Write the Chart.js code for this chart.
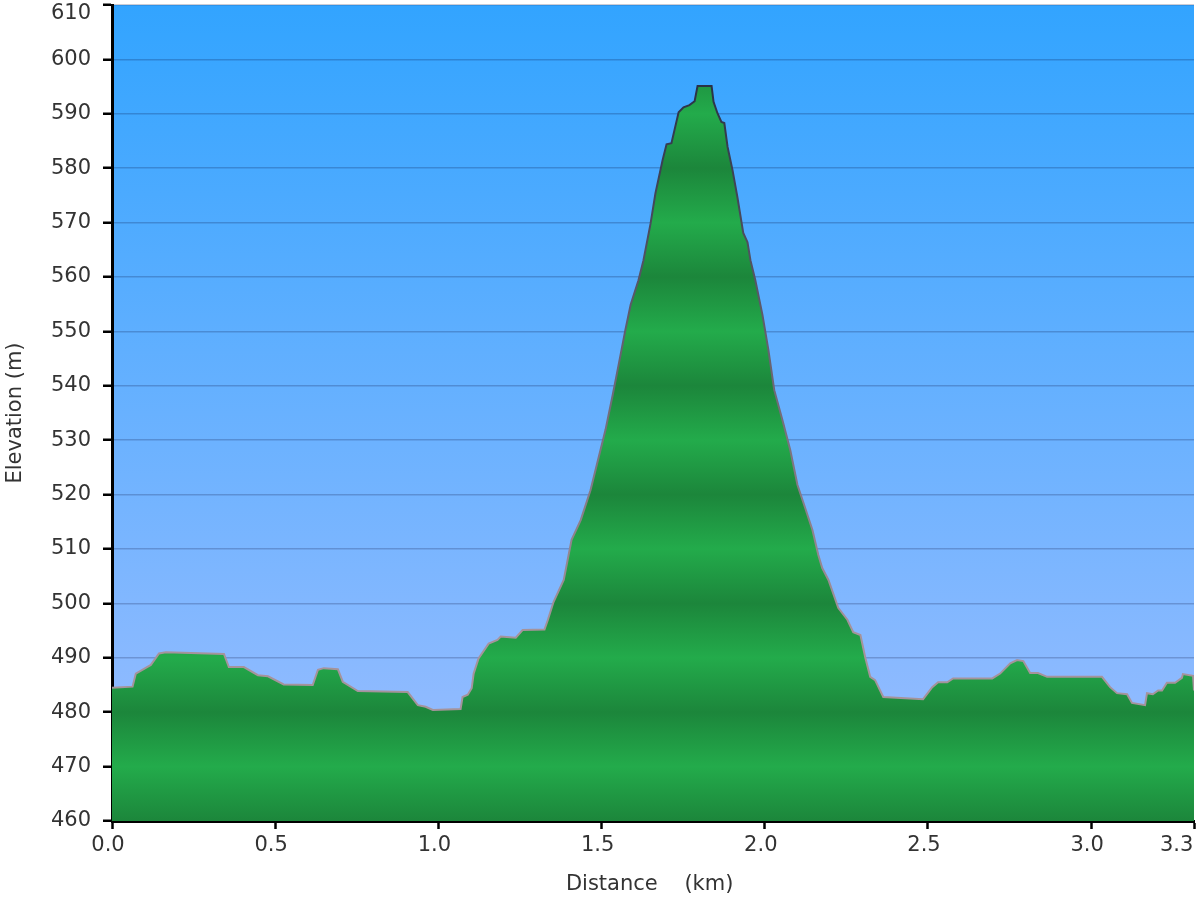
<!DOCTYPE html>
<html>
<head>
<meta charset="utf-8">
<script src="https://cdn.jsdelivr.net/npm/chart.js@4.4.1/dist/chart.umd.min.js"></script>
<style>
html,body{margin:0;padding:0;background:#fff;}
canvas{display:block;}
</style>
</head>
<body>
<canvas id="c" width="1200" height="900"></canvas>
<script>
const distanceKm = [0.000,0.063,0.073,0.119,0.144,0.165,0.343,0.358,0.404,0.447,
  0.478,0.526,0.615,0.631,0.649,0.692,0.707,0.753,0.906,0.937,
  0.961,0.983,1.068,1.074,1.090,1.102,1.108,1.123,1.154,1.181,
  1.191,1.237,1.258,1.325,1.335,1.353,1.384,1.408,1.436,1.466,
  1.485,1.512,1.534,1.552,1.573,1.589,1.613,1.628,1.650,1.665,
  1.687,1.699,1.714,1.736,1.751,1.769,1.785,1.794,1.837,1.843,
  1.855,1.867,1.876,1.886,1.901,1.916,1.934,1.947,1.956,1.971,
  1.993,2.011,2.029,2.054,2.078,2.100,2.124,2.146,2.164,2.176,
  2.195,2.225,2.253,2.271,2.293,2.308,2.323,2.338,2.363,2.485,
  2.513,2.531,2.559,2.577,2.697,2.721,2.752,2.773,2.792,2.813,
  2.837,2.865,3.033,3.058,3.079,3.110,3.125,3.165,3.171,3.189,
  3.205,3.217,3.232,3.257,3.278,3.281,3.312,3.315];
const elevationM = [484.5,484.7,487.1,488.7,490.8,491.0,490.7,488.3,488.3,486.8,
  486.6,485.1,485.0,487.8,488.1,487.9,485.6,483.9,483.7,481.3,
  481.0,480.4,480.6,482.8,483.2,484.4,487.1,489.9,492.6,493.3,
  493.9,493.7,495.1,495.2,496.9,500.3,504.3,511.7,515.3,520.8,
  525.4,531.9,538.3,543.8,550.3,554.9,559.4,563.0,569.8,575.4,
  581.5,584.4,584.6,590.3,591.2,591.6,592.3,595.1,595.1,592.2,
  590.1,588.5,588.3,583.9,579.7,574.7,568.1,566.4,563.1,559.4,
  553.0,546.6,539.2,533.7,528.2,521.8,517.5,513.5,508.9,506.5,
  504.3,499.2,497.0,494.7,494.2,490.0,486.5,485.9,482.8,482.4,
  484.6,485.5,485.5,486.2,486.2,487.1,489.0,489.6,489.4,487.2,
  487.2,486.5,486.5,484.6,483.5,483.3,481.7,481.3,483.5,483.3,
  484.0,484.0,485.4,485.4,486.3,487.0,486.7,484.0];
const xTickValues = [0, 0.5, 1.0, 1.5, 2.0, 2.5, 3.0, 3.315];
const xTickLabels = ['0.0','0.5','1.0','1.5','2.0','2.5','3.0','3.3'];
const yMin = 460, yMax = 610, yStep = 10;

const FONT = 'DejaVu Sans, Verdana, sans-serif';
const GREEN_DARK = '#1c863b';
const GREEN_LIGHT = '#23ab4b';

const skyPlugin = {
  id: 'sky',
  beforeDraw(chart) {
    const {ctx, chartArea: a} = chart;
    if (!a) return;
    const g = ctx.createLinearGradient(0, a.top, 0, a.bottom);
    g.addColorStop(0, '#32a4ff');
    g.addColorStop(1, '#9ebeff');
    ctx.save();
    ctx.fillStyle = g;
    ctx.fillRect(a.left, a.top, a.right - a.left, a.bottom - a.top);
    ctx.restore();
  }
};

function groundFill(context) {
  const ch = context.chart;
  if (!ch.chartArea) return GREEN_LIGHT;
  const y = ch.scales.y;
  const bot = y.getPixelForValue(yMin), top = y.getPixelForValue(yMax);
  const g = ch.ctx.createLinearGradient(0, bot, 0, top);
  for (let v = yMin; v <= yMax; v += yStep) {
    const k = Math.round((v - yMin) / yStep);
    g.addColorStop((v - yMin) / (yMax - yMin), k % 2 === 0 ? GREEN_DARK : GREEN_LIGHT);
  }
  return g;
}

function ridgeLine(context) {
  const ch = context.chart;
  if (!ch.chartArea) return '#666';
  const y = ch.scales.y;
  const g = ch.ctx.createLinearGradient(0, y.getPixelForValue(595), 0, y.getPixelForValue(495));
  g.addColorStop(0, '#2a3247');
  g.addColorStop(1, '#a5939b');
  return g;
}

new Chart(document.getElementById('c'), {
  type: 'line',
  data: {
    datasets: [{
      data: distanceKm.map((d, i) => ({x: d, y: elevationM[i]})),
      fill: 'start',
      backgroundColor: groundFill,
      borderColor: ridgeLine,
      borderWidth: 2,
      pointRadius: 0,
      tension: 0
    }]
  },
  options: {
    responsive: false,
    animation: false,
    devicePixelRatio: 1,
    layout: {padding: {top: 5, right: 6, bottom: 0, left: 0}},
    plugins: {legend: {display: false}, tooltip: {enabled: false}},
    scales: {
      x: {
        type: 'linear',
        min: 0,
        max: xTickValues[xTickValues.length - 1],
        z: 1,
        afterBuildTicks: s => { s.ticks = xTickValues.map(v => ({value: v})); },
        afterFit: s => { s.height = 79; s.paddingLeft = 0; s.paddingRight = 0; },
        grid: {drawOnChartArea: false, drawTicks: true, tickLength: 8, tickColor: '#000', tickWidth: 2.5},
        border: {display: true, color: '#000', width: 3},
        ticks: {
          autoSkip: false, maxRotation: 0, padding: 4, labelOffset: -4,
          color: '#333', font: {family: FONT, size: 21},
          callback: (v, i) => i === xTickLabels.length - 1 ? xTickLabels[i] + '    ' : xTickLabels[i]
        },
        title: {display: true, text: 'Distance    (km) ', color: '#333',
          font: {family: FONT, size: 21}, padding: {top: 0, bottom: 3}}
      },
      y: {
        type: 'linear',
        min: yMin,
        max: yMax,
        z: 1,
        afterFit: s => { s.width = 112; s.paddingTop = 0; s.paddingBottom = 0; },
        grid: {color: 'rgba(0,0,40,0.2)', lineWidth: 1.5, tickLength: 9, tickColor: '#000', tickWidth: 2.5},
        border: {display: true, color: '#000', width: 3},
        ticks: {
          stepSize: yStep, padding: 12, color: '#333',
          font: {family: FONT, size: 21, lineHeight: 0.81},
          callback: v => v === yMax ? ['', String(v)] : String(v)
        },
        title: {display: true, text: 'Elevation (m)', color: '#333',
          font: {family: FONT, size: 21}, padding: {top: 3, bottom: 0}}
      }
    }
  },
  plugins: [skyPlugin]
});
</script>
</body>
</html>
